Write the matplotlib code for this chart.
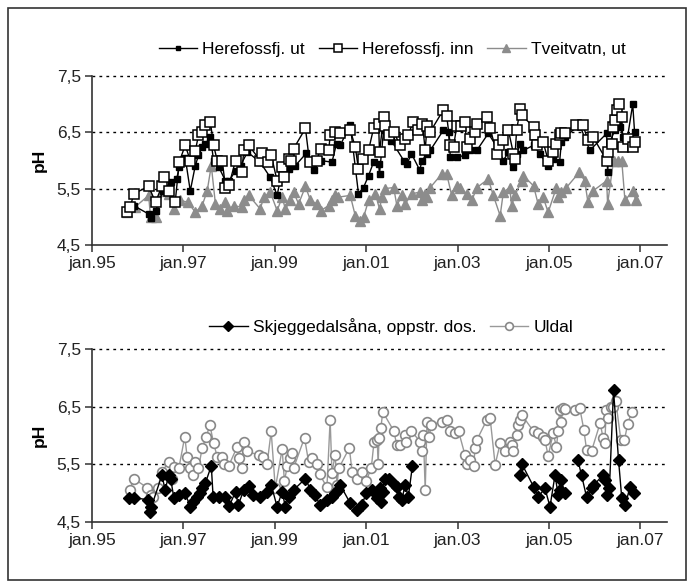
import numpy as np
import matplotlib
matplotlib.use("Agg")
import matplotlib.pyplot as plt
from matplotlib.patches import Rectangle

plt.rcParams['font.family'] = ['Liberation Sans', 'DejaVu Sans']

# ---------------- data (decimal year, pH) ----------------
inn_t = [1995.77, 1995.84, 1995.91, 1996.24, 1996.39, 1996.53, 1996.57, 1996.68, 1996.82, 1996.91,
         1997.04, 1997.15, 1997.26, 1997.33, 1997.41, 1997.48, 1997.59, 1997.66, 1997.74, 1997.85,
         1997.92, 1998.00, 1998.14, 1998.28, 1998.32, 1998.43, 1998.68, 1998.73, 1998.86, 1998.92,
         1999.05, 1999.16, 1999.21, 1999.30, 1999.36, 1999.41, 1999.67, 1999.76, 1999.92, 2000.00,
         2000.18, 2000.21, 2000.32, 2000.43, 2000.65, 2000.76, 2000.83, 2000.93, 2001.05, 2001.16,
         2001.27, 2001.29, 2001.38, 2001.42, 2001.50, 2001.60, 2001.74, 2001.85, 2001.92, 2002.02,
         2002.14, 2002.23, 2002.29, 2002.33, 2002.40, 2002.69, 2002.76, 2002.84, 2002.91, 2002.98,
         2003.08, 2003.16, 2003.20, 2003.27, 2003.38, 2003.42, 2003.64, 2003.71, 2003.86, 2003.90,
         2004.00, 2004.11, 2004.22, 2004.25, 2004.29, 2004.37, 2004.40, 2004.66, 2004.69, 2004.73,
         2004.87, 2004.98, 2005.09, 2005.16, 2005.23, 2005.27, 2005.34, 2005.60, 2005.74, 2005.85,
         2005.96, 2006.26, 2006.30, 2006.37, 2006.40, 2006.44, 2006.48, 2006.54, 2006.59, 2006.62,
         2006.73, 2006.84, 2006.87]
inn_v = [5.08, 5.17, 5.41, 5.54, 5.26, 5.55, 5.70, 5.46, 5.26, 5.98,
         6.27, 6.00, 6.17, 6.45, 6.51, 6.63, 6.68, 6.27, 6.00, 6.00,
         5.52, 5.57, 6.00, 5.79, 6.18, 6.27, 6.00, 6.13, 5.97, 6.10,
         5.64, 5.88, 5.70, 6.03, 6.00, 6.21, 6.57, 5.97, 6.00, 6.21,
         6.18, 6.45, 6.51, 6.48, 6.54, 6.24, 5.85, 6.03, 6.18, 6.57,
         6.65, 6.15, 6.77, 6.62, 6.45, 6.51, 6.27, 6.39, 6.45, 6.68,
         6.54, 6.65, 6.18, 6.62, 6.51, 6.90, 6.79, 6.27, 6.24, 6.62,
         6.62, 6.68, 6.24, 6.39, 6.51, 6.65, 6.77, 6.57, 6.12, 6.27,
         6.36, 6.54, 6.12, 6.03, 6.54, 6.92, 6.80, 6.60, 6.45, 6.27,
         6.33, 6.00, 6.15, 6.30, 6.45, 6.48, 6.48, 6.63, 6.63, 6.36,
         6.42, 6.00, 6.15, 6.30, 6.60, 6.72, 6.89, 7.00, 6.77, 6.24,
         6.39, 6.24, 6.33]

ut_t = [1995.77, 1995.91, 1996.24, 1996.30, 1996.39, 1996.55, 1996.72, 1996.85, 1996.91, 1997.04,
        1997.15, 1997.26, 1997.33, 1997.41, 1997.48, 1997.59, 1997.66, 1997.77, 1997.92, 1998.00,
        1998.14, 1998.25, 1998.40, 1998.68, 1998.90, 1999.05, 1999.16, 1999.30, 1999.45, 1999.69,
        1999.85, 2000.00, 2000.25, 2000.35, 2000.43, 2000.65, 2000.83, 2000.94, 2001.05, 2001.16,
        2001.27, 2001.29, 2001.38, 2001.45, 2001.55, 2001.82, 2001.89, 2001.99, 2002.17, 2002.22,
        2002.33, 2002.40, 2002.69, 2002.80, 2002.84, 2002.98, 2003.16, 2003.27, 2003.42, 2003.67,
        2003.86, 2004.00, 2004.11, 2004.21, 2004.29, 2004.37, 2004.44, 2004.66, 2004.80, 2004.98,
        2005.09, 2005.23, 2005.27, 2005.34, 2005.67, 2005.89, 2006.26, 2006.28, 2006.33, 2006.44,
        2006.51, 2006.55, 2006.62, 2006.70, 2006.83, 2006.87]
ut_v = [5.08, 5.20, 5.05, 4.98, 5.10, 5.46, 5.61, 5.67, 5.88, 6.05,
        5.46, 5.91, 6.09, 6.24, 6.30, 6.42, 6.00, 5.89, 5.64, 5.64,
        5.82, 5.91, 6.15, 5.97, 5.70, 5.38, 5.82, 5.85, 5.91, 6.13,
        5.83, 6.00, 5.97, 6.30, 6.27, 6.63, 5.41, 5.52, 5.73, 5.97,
        5.94, 5.76, 6.54, 6.45, 6.35, 6.00, 5.94, 6.12, 5.83, 6.00,
        6.12, 6.18, 6.54, 6.51, 6.06, 6.06, 6.09, 6.18, 6.18, 6.48,
        6.24, 6.00, 6.15, 5.88, 6.12, 6.30, 6.18, 6.27, 6.12, 5.91,
        6.03, 5.97, 6.33, 6.42, 6.63, 6.18, 6.48, 5.79, 6.33, 6.54,
        6.65, 6.60, 6.42, 6.33, 7.00, 6.51]

tv_t = [1995.77, 1995.95, 1996.24, 1996.28, 1996.39, 1996.55, 1996.68, 1996.79, 1996.93, 1997.10,
        1997.26, 1997.41, 1997.52, 1997.61, 1997.70, 1997.81, 1997.90, 1997.96, 1998.10, 1998.28,
        1998.32, 1998.43, 1998.68, 1998.76, 1998.90, 1999.05, 1999.16, 1999.23, 1999.34, 1999.41,
        1999.52, 1999.67, 1999.78, 1999.92, 2000.00, 2000.18, 2000.25, 2000.32, 2000.39, 2000.65,
        2000.76, 2000.87, 2000.94, 2001.05, 2001.20, 2001.29, 2001.34, 2001.40, 2001.60, 2001.67,
        2001.78, 2001.85, 2002.00, 2002.18, 2002.22, 2002.29, 2002.33, 2002.40, 2002.65, 2002.76,
        2002.87, 2002.98, 2003.05, 2003.20, 2003.31, 2003.42, 2003.67, 2003.78, 2003.93, 2004.00,
        2004.14, 2004.18, 2004.25, 2004.40, 2004.44, 2004.66, 2004.76, 2004.87, 2004.98, 2005.16,
        2005.20, 2005.27, 2005.38, 2005.66, 2005.78, 2005.85, 2005.96, 2006.26, 2006.28, 2006.41,
        2006.51, 2006.59, 2006.66, 2006.83, 2006.90]
tv_v = [5.08, 5.18, 5.38, 4.99, 4.99, 5.46, 5.41, 5.14, 5.29, 5.26,
        5.08, 5.20, 5.46, 5.91, 5.23, 5.14, 5.26, 5.11, 5.20, 5.17,
        5.29, 5.38, 5.14, 5.35, 5.44, 5.11, 5.35, 5.14, 5.29, 5.44,
        5.23, 5.54, 5.29, 5.23, 5.11, 5.20, 5.29, 5.38, 5.35, 5.38,
        5.02, 4.93, 4.99, 5.29, 5.41, 5.14, 5.35, 5.50, 5.52, 5.20,
        5.38, 5.23, 5.41, 5.44, 5.29, 5.41, 5.35, 5.52, 5.76, 5.76,
        5.38, 5.55, 5.52, 5.41, 5.29, 5.52, 5.67, 5.38, 5.02, 5.44,
        5.52, 5.20, 5.38, 5.64, 5.73, 5.55, 5.23, 5.35, 5.08, 5.52,
        5.35, 5.44, 5.52, 5.79, 5.64, 5.26, 5.46, 5.64, 5.23, 6.00,
        6.00, 6.00, 5.29, 5.46, 5.29]

uld_t = [1995.83, 1995.91, 1996.21, 1996.28, 1996.34, 1996.44, 1996.53, 1996.68, 1996.75, 1996.79,
         1996.90, 1997.03, 1997.08, 1997.15, 1997.22, 1997.26, 1997.33, 1997.41, 1997.50, 1997.58,
         1997.66, 1997.74, 1997.85, 1997.88, 1997.99, 1998.17, 1998.22, 1998.28, 1998.32, 1998.39,
         1998.65, 1998.74, 1998.83, 1998.92, 1999.01, 1999.16, 1999.21, 1999.27, 1999.34, 1999.37,
         1999.41, 1999.65, 1999.74, 1999.81, 1999.92, 1999.98, 2000.14, 2000.21, 2000.25, 2000.32,
         2000.36, 2000.40, 2000.63, 2000.69, 2000.80, 2000.90, 2001.00, 2001.11, 2001.17, 2001.24,
         2001.26, 2001.28, 2001.32, 2001.36, 2001.60, 2001.67, 2001.74, 2001.85, 2001.88, 2001.99,
         2002.18, 2002.22, 2002.25, 2002.29, 2002.33, 2002.38, 2002.42, 2002.65, 2002.76, 2002.84,
         2002.95, 2003.02, 2003.16, 2003.20, 2003.27, 2003.35, 2003.38, 2003.42, 2003.64, 2003.71,
         2003.82, 2003.93, 2004.04, 2004.15, 2004.18, 2004.22, 2004.29, 2004.33, 2004.37, 2004.40,
         2004.66, 2004.76, 2004.87, 2004.91, 2004.98, 2005.09, 2005.16, 2005.20, 2005.23, 2005.27,
         2005.30, 2005.34, 2005.56, 2005.67, 2005.76, 2005.82, 2005.93, 2006.12, 2006.18, 2006.22,
         2006.25, 2006.30, 2006.35, 2006.40, 2006.46, 2006.57, 2006.65, 2006.72, 2006.81]
uld_v = [5.05, 5.25, 5.09, 4.96, 4.93, 5.09, 5.37, 5.54, 5.25, 5.45,
         5.43, 5.98, 5.63, 5.43, 5.31, 5.54, 5.43, 5.78, 5.98, 6.18,
         5.86, 5.63, 5.63, 5.51, 5.47, 5.79, 5.60, 5.43, 5.89, 5.72,
         5.66, 5.63, 5.50, 6.07, 5.08, 5.76, 5.20, 5.46, 5.60, 5.69,
         5.43, 5.96, 5.53, 5.60, 5.50, 5.32, 5.10, 6.27, 5.35, 5.66,
         5.14, 5.43, 5.78, 5.37, 5.25, 5.37, 5.21, 5.43, 5.89, 5.92,
         5.50, 5.95, 6.12, 6.41, 6.08, 5.83, 5.83, 6.01, 5.89, 6.07,
         5.89, 5.72, 6.01, 5.05, 6.24, 5.98, 6.18, 6.24, 6.27, 6.07,
         6.04, 6.07, 5.66, 5.51, 5.57, 5.46, 5.78, 5.92, 6.27, 6.30,
         5.49, 5.86, 5.72, 5.89, 5.83, 5.72, 6.01, 6.18, 6.27, 6.36,
         6.07, 6.04, 5.98, 5.92, 5.64, 6.04, 5.80, 6.07, 6.44, 6.24,
         6.47, 6.45, 6.44, 6.48, 6.10, 5.75, 5.73, 6.22, 5.95, 5.86,
         6.44, 6.30, 6.50, 6.50, 6.59, 5.92, 5.92, 6.20, 6.41]

skj_t = [1995.82, 1995.91, 1996.22, 1996.26, 1996.30, 1996.53, 1996.60, 1996.68, 1996.72, 1996.79,
         1996.90, 1997.04, 1997.15, 1997.22, 1997.30, 1997.37, 1997.40, 1997.48, 1997.61, 1997.65,
         1997.77, 1997.90, 1998.00, 1998.14, 1998.20, 1998.32, 1998.43, 1998.53, 1998.68, 1998.83,
         1998.92, 1999.05, 1999.16, 1999.23, 1999.30, 1999.41, 1999.67, 1999.78, 1999.88, 1999.99,
         2000.14, 2000.25, 2000.32, 2000.39, 2000.43, 2000.65, 2000.80, 2000.90, 2001.00, 2001.13,
         2001.24, 2001.30, 2001.32, 2001.36, 2001.40, 2001.49, 2001.62, 2001.67, 2001.72, 2001.78,
         2001.85, 2001.92, 2002.01, 2003.00, 2004.37, 2004.40, 2004.66, 2004.76, 2004.91, 2005.02,
         2005.13, 2005.20, 2005.24, 2005.27, 2005.34, 2005.50, 2005.63, 2005.71, 2005.82, 2005.93,
         2005.99, 2006.17, 2006.22, 2006.27, 2006.32, 2006.41, 2006.52, 2006.59, 2006.67, 2006.77,
         2006.85]
skj_v = [4.92, 4.92, 4.88, 4.67, 4.76, 5.31, 5.05, 5.31, 5.25, 4.92,
         4.96, 4.99, 4.76, 4.85, 4.93, 4.99, 5.08, 5.17, 5.47, 4.93,
         4.93, 4.93, 4.77, 5.02, 4.79, 5.05, 5.12, 4.96, 4.93, 5.02,
         5.14, 4.76, 5.02, 4.76, 4.93, 5.05, 5.25, 5.05, 4.96, 4.79,
         4.88, 4.93, 4.99, 5.05, 5.14, 4.82, 4.70, 4.79, 4.99, 5.05,
         4.91, 5.08, 4.85, 5.02, 5.25, 5.25, 5.14, 5.11, 4.93, 4.88,
         5.14, 4.93, 5.47, np.nan, 5.31, 5.51, 5.11, 4.93, 5.08, 4.76,
         5.31, 4.96, 5.05, 5.22, 4.99, np.nan, 5.57, 5.31, 4.93, 5.08,
         5.14, 5.31, 5.22, 4.96, 5.08, 6.78, 5.57, 4.91, 4.79, 5.11,
         5.00]

xticks = [1995, 1997, 1999, 2001, 2003, 2005, 2007]
xticklabels = ['jan.95', 'jan.97', 'jan.99', 'jan.01', 'jan.03', 'jan.05', 'jan.07']
yticks = [4.5, 5.5, 6.5, 7.5]
yticklabels = ['4,5', '5,5', '6,5', '7,5']

# ---------------- figure ----------------
W, H = 694, 587
fig = plt.figure(figsize=(W / 100, H / 100), dpi=100)
fig.patches.append(Rectangle((8 / W, 1 - 580 / H), 678 / W, 572 / H,
                             transform=fig.transFigure, fill=False,
                             edgecolor='#333333', linewidth=1.2))

GREY = '#8c8c8c'
SPINE = '#333333'
FS = 12.5


def style_axes(ax):
    ax.set_xlim(1995, 2007.58)
    ax.set_ylim(4.5, 7.5)
    for g in [5.5, 6.5, 7.5]:
        ax.axhline(g, color='black', linewidth=1.0, linestyle=(0, (2, 3)),
                   zorder=1, clip_on=False)
    ax.spines['top'].set_visible(False)
    ax.spines['right'].set_visible(False)
    ax.spines['left'].set_color(SPINE)
    ax.spines['bottom'].set_color(SPINE)
    ax.spines['left'].set_linewidth(1.2)
    ax.spines['bottom'].set_linewidth(1.2)
    ax.set_xticks(xticks)
    ax.set_xticklabels(xticklabels, fontsize=FS, color='#222222')
    ax.set_yticks(yticks)
    ax.set_yticklabels(yticklabels, fontsize=FS, color='#222222')
    ax.tick_params(axis='both', direction='out', length=5, width=1.1,
                   color=SPINE, pad=3)
    ax.set_ylabel('pH', fontsize=FS, fontweight='bold', labelpad=7)


left = 92 / W
width = (667 - 92) / W
ax1 = fig.add_axes([left, 1 - 245 / H, width, (245 - 76) / H])
ax2 = fig.add_axes([left, 1 - 521.7 / H, width, (521.7 - 349) / H])

style_axes(ax1)
style_axes(ax2)

l_tv, = ax1.plot(tv_t, tv_v, color=GREY, linewidth=1.0, marker='^',
                 markersize=6.5, markerfacecolor=GREY, markeredgecolor=GREY,
                 zorder=3, label='Tveitvatn, ut')
l_ut, = ax1.plot(ut_t, ut_v, color='black', linewidth=1.0, marker='s',
                 markersize=4, markerfacecolor='black', markeredgecolor='black',
                 zorder=4, label='Herefossfj. ut')
l_inn, = ax1.plot(inn_t, inn_v, color='black', linewidth=1.0, marker='s',
                  markersize=7.5, markerfacecolor='white', markeredgecolor='black',
                  markeredgewidth=1.1, zorder=5, label='Herefossfj. inn')

l_uld, = ax2.plot(uld_t, uld_v, color='#999999', linewidth=1.0, marker='o',
                  markersize=7, markerfacecolor='white', markeredgecolor='#888888',
                  markeredgewidth=1.2, zorder=3, label='Uldal')
l_skj, = ax2.plot(skj_t, skj_v, color='black', linewidth=1.0, marker='D',
                  markersize=6.5, markerfacecolor='black', markeredgecolor='black',
                  zorder=4, label='Skjeggedalsåna, oppstr. dos.')

leg_kw = dict(loc='center', ncol=3, frameon=False, fontsize=FS,
              handlelength=2.2, handletextpad=0.3, columnspacing=0.8,
              markerscale=0.8)
fig.legend([l_ut, l_inn, l_tv], ['Herefossfj. ut', 'Herefossfj. inn', 'Tveitvatn, ut'],
           bbox_to_anchor=(0.565, 1 - 49 / H), **leg_kw)
fig.legend([l_skj, l_uld], ['Skjeggedalsåna, oppstr. dos.', 'Uldal'],
           bbox_to_anchor=(0.564, 1 - 327 / H), **leg_kw)

fig.savefig('out.png', dpi=100)
